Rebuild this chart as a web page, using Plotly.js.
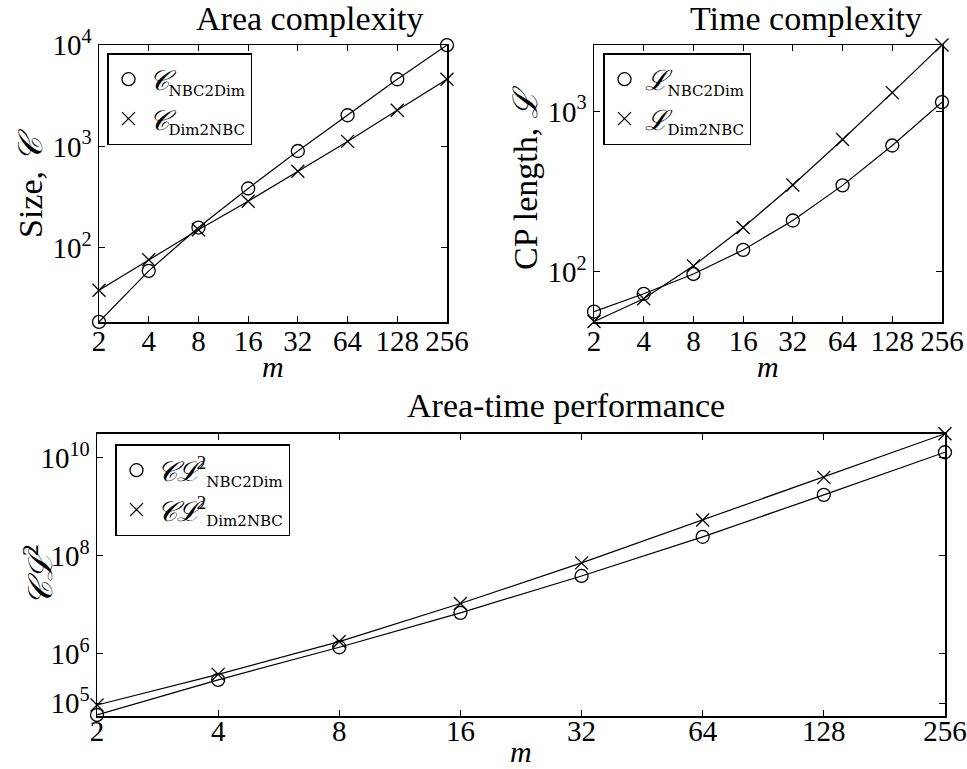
<!DOCTYPE html>
<html><head><meta charset="utf-8">
<script src="https://cdn.plot.ly/plotly-3.0.1.min.js"></script>
<style>body{margin:0;background:#fff}#c{width:967px;height:769px}</style>
</head><body><div id="c"></div>
<script>
const m = [2, 4, 8, 16, 32, 64, 128, 256];
const mLabels = ['2', '4', '8', '16', '32', '64', '128', '256'];
const sizeNBC2Dim = [18.5, 59, 158, 384, 900, 2030, 4600, 10000];
const sizeDim2NBC = [38, 76, 150, 287, 569, 1120, 2270, 4600];
const cpNBC2Dim = [56.5, 73, 97, 137, 209, 346, 613, 1143];
const cpDim2NBC = [49, 68, 109, 189, 348, 668, 1309, 2594];
const atNBC2Dim = [57000, 297000, 1.37e6, 6.9e6, 3.9e7, 2.45e8, 1.76e9, 1.3e10];
const atDim2NBC = [91000, 384000, 1.79e6, 1.07e7, 7.2e7, 5.4e8, 4.0e9, 3.1e10];
const yTicks1 = [100, 1000, 10000];
const yTicks1Text = ['10<sup>2</sup>', '10<sup>3</sup>', '10<sup>4</sup>'];
const yTicks2 = [100, 1000];
const yTicks2Text = ['10<sup>2</sup>', '10<sup>3</sup>'];
const yTicks3 = [1e5, 1e6, 1e8, 1e10];
const yTicks3Text = ['10<sup>5</sup>', '10<sup>6</sup>', '10<sup>8</sup>', '10<sup>10</sup>'];

const SERIF = 'Liberation Serif';
const TT = '<span style="font-family:DejaVu Serif;font-size:15px">';
const CAL = '𝒞', LCAL = 'ℒ';

function pair(x, y, xa, ya, sym, name, leg) {
  return [
    {x: x, y: y, xaxis: xa, yaxis: ya, mode: 'lines', line: {color: '#000', width: 1.2}, showlegend: false, hoverinfo: 'skip'},
    {x: x, y: y, xaxis: xa, yaxis: ya, mode: 'markers', cliponaxis: false, name: name, legend: leg,
     marker: {symbol: sym, size: 13, color: '#000', line: {color: '#000', width: 1.3}}}
  ];
}
const data = [].concat(
  pair(m, sizeNBC2Dim, 'x', 'y', 'circle-open', '<i>' + CAL + '</i><sub>' + TT + 'NBC2Dim</span></sub>', 'legend'),
  pair(m, sizeDim2NBC, 'x', 'y', 'x-thin-open', '<i>' + CAL + '</i><sub>' + TT + 'Dim2NBC</span></sub>', 'legend'),
  pair(m, cpNBC2Dim, 'x2', 'y2', 'circle-open', '<i>' + LCAL + '</i><sub>' + TT + 'NBC2Dim</span></sub>', 'legend2'),
  pair(m, cpDim2NBC, 'x2', 'y2', 'x-thin-open', '<i>' + LCAL + '</i><sub>' + TT + 'Dim2NBC</span></sub>', 'legend2'),
  pair(m, atNBC2Dim, 'x3', 'y3', 'circle-open', '<i>' + CAL + LCAL + '</i><sup>2</sup><sub>' + TT + 'NBC2Dim</span></sub>', 'legend3'),
  pair(m, atDim2NBC, 'x3', 'y3', 'x-thin-open', '<i>' + CAL + LCAL + '</i><sup>2</sup><sub>' + TT + 'Dim2NBC</span></sub>', 'legend3')
);

const ax = {
  type: 'log', showgrid: false, zeroline: false, showline: true, mirror: 'ticks',
  linecolor: '#000', linewidth: 1.5, ticks: 'inside', ticklen: 6, tickcolor: '#000',
  tickfont: {family: SERIF, size: 29, color: '#000'}, fixedrange: true
};
const eps = 1e-4;
const xa = Object.assign({}, ax, {tickvals: m, ticktext: mLabels, ticklabelstandoff: -7,
  range: [Math.log10(2) - eps, Math.log10(256) + eps]});
const leg = {
  bgcolor: '#fff', bordercolor: '#000', borderwidth: 1.5, xanchor: 'left', yanchor: 'top',
  font: {family: SERIF, size: 28, color: '#000'}, itemwidth: 30, tracegroupgap: 0
};
const layout = {
  width: 967, height: 769, margin: {l: 0, r: 0, t: 0, b: 0},
  paper_bgcolor: '#fff', plot_bgcolor: '#fff', font: {family: SERIF, color: '#000'},
  xaxis: Object.assign({}, xa, {domain: [99/967, 447/967], anchor: 'y'}),
  yaxis: Object.assign({}, ax, {domain: [1-322/769, 1-45/769], anchor: 'x', range: [1.266, 4.001], tickvals: yTicks1, ticktext: yTicks1Text}),
  xaxis2: Object.assign({}, xa, {domain: [594/967, 942/967], anchor: 'y2'}),
  yaxis2: Object.assign({}, ax, {domain: [1-322/769, 1-45/769], anchor: 'x2', range: [1.6875, 3.414], tickvals: yTicks2, ticktext: yTicks2Text}),
  xaxis3: Object.assign({}, xa, {domain: [97/967, 945/967], anchor: 'y3', ticklabelstandoff: -11}),
  yaxis3: Object.assign({}, ax, {domain: [1-716/769, 1-433.5/769], anchor: 'x3', range: [4.735, 10.496], tickvals: yTicks3, ticktext: yTicks3Text}),
  legend: Object.assign({}, leg, {x: 107/967, y: 1-53/769}),
  legend2: Object.assign({}, leg, {x: 603/967, y: 1-53/769}),
  legend3: Object.assign({}, leg, {x: 115/967, y: 1-444/769}),
  annotations: [
    {text: 'Area complexity', x: 310/967, y: 1-18/769},
    {text: 'Time complexity', x: 806/967, y: 1-18/769},
    {text: 'Area-time performance', x: 566/967, y: 1-405/769},
    {text: 'Size, <i>' + CAL + '</i>', x: 30/967, y: 1-183/769, textangle: -90},
    {text: 'CP length, <i>' + LCAL + '</i>', x: 525/967, y: 1-178/769, textangle: -90},
    {text: '<i>' + CAL + LCAL + '</i><sup>2</sup>', x: 38/967, y: 1-575/769, textangle: -90},
    {text: '<i>m</i>', x: 273/967, y: 1-366/769, font: {family: SERIF, size: 30, color: '#000'}},
    {text: '<i>m</i>', x: 768/967, y: 1-366/769, font: {family: SERIF, size: 30, color: '#000'}},
    {text: '<i>m</i>', x: 521/967, y: 1-751/769, font: {family: SERIF, size: 30, color: '#000'}}
  ].map(a => Object.assign({xref: 'paper', yref: 'paper', showarrow: false, xanchor: 'center', yanchor: 'middle',
    font: {family: SERIF, size: 34, color: '#000'}}, a))
};
Plotly.newPlot('c', data, layout, {staticPlot: true});
</script></body></html>
